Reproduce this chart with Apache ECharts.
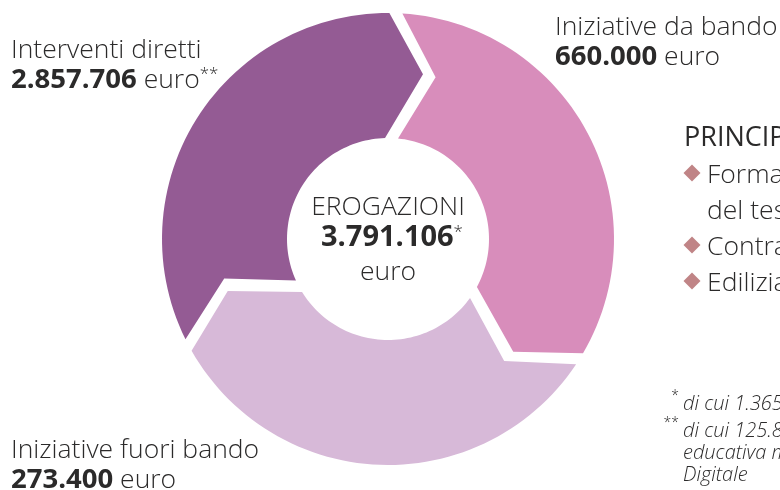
<!DOCTYPE html>
<html><head><meta charset="utf-8">
<script src="https://cdn.jsdelivr.net/npm/echarts@6/dist/echarts.min.js"></script>
<style>html,body{margin:0;padding:0;background:#fff}#c{width:780px;height:490px}</style>
</head><body><div id="c"></div>
<script>
// ---- data ----
const categories = ['Iniziative da bando', 'Iniziative fuori bando', 'Interventi diretti'];
const values = [660000, 273400, 2857706];
const valueMarks = ['', '', '**'];
const centerTitle = 'EROGAZIONI';
const centerMark = '*';
const unitLabel = 'euro';
const focusTitle = 'PRINCIPALI SETTORI DI INTERVENTO';
const focusItems = [['Formazione e sviluppo', 'del tessuto sociale'], ['Contrasto alla povertà educativa'], ['Edilizia scolastica']];
const footnoteMarks = ['*', '**'];
const footnoteLines = [['di cui 1.365.000 euro per progetti pluriennali'], ['di cui 125.800 euro per il contrasto alla povertà', 'educativa minorile e il Piano Nazionale Scuola', 'Digitale']];

// ---- style ----
const segColors = ['#d88dbb', '#d7b9d8', '#945b94'];
const TXT = '#2b2a2a';
const FONT = "'Open Sans', sans-serif";
const HALF_GAP = 6.5;   // px
const TIP_DEG = 12.2;   // chevron depth
const VR = 0.54;        // chevron vertex radial position

const fmt = n => String(n).replace(/\B(?=(\d{3})+(?!\d))/g, '.');
const total = values.reduce((a, b) => a + b, 0);

const n = categories.length;
function renderItem(params, api) {
  const i = api.value(1);
  const cs = params.coordSys;
  const cx = cs.cx, cy = cs.cy;
  const degPerUnit = 360 / n;
  const pt = (rv, a) => api.coord([rv, a]);
  const rpx = rv => { const p = api.coord([rv, 0]); return Math.hypot(p[0] - cx, p[1] - cy); };
  const d = r => (HALF_GAP / r) * 180 / Math.PI / degPerUnit;
  const rO = rpx(1), rI = rpx(0), rV = rpx(VR);
  const tip = TIP_DEG / degPerUnit;
  const s = i, e = i + 1;
  const pts = [];
  const N = 60;
  const a0 = s + d(rO), a1 = e - d(rO);
  for (let k = 0; k <= N; k++) pts.push(pt(1, a0 + (a1 - a0) * k / N));
  pts.push(pt(VR, e + tip - d(rV)));
  const b0 = e - d(rI), b1 = s + d(rI);
  for (let k = 0; k <= N; k++) pts.push(pt(0, b0 + (b1 - b0) * k / N));
  pts.push(pt(VR, s + tip + d(rV)));
  return { type: 'polygon', shape: { points: pts }, style: { fill: segColors[i] } };
}

const rich = {
  l: { fontFamily: FONT, fontWeight: 300, fontSize: 26.5, fill: TXT },
  b: { fontFamily: FONT, fontWeight: 700, fontSize: 27.5, fill: TXT },
  cb: { fontFamily: FONT, fontWeight: 700, fontSize: 29, fill: TXT },
  s: { fontFamily: FONT, fontWeight: 300, fontSize: 17, fill: TXT, padding: [0, 0, 12, 0] },
  t: { fontFamily: FONT, fontWeight: 400, fontSize: 27, fill: TXT },
  f: { fontFamily: FONT, fontWeight: 300, fontStyle: 'italic', fontSize: 20, fill: TXT },
  fs: { fontFamily: FONT, fontWeight: 300, fontSize: 14, fill: TXT, padding: [0, 0, 10, 0] }
};
function txt(x, y, text, align) {
  return { type: 'text', silent: true, style: { x, y, text, rich, align: align || 'left', verticalAlign: 'middle', fill: TXT } };
}
const valLine = i => '{b|' + fmt(values[i]) + '}{l| ' + unitLabel + '}' + (valueMarks[i] ? '{s|' + valueMarks[i] + '}' : '');

const graphics = [
  txt(555, 27, '{l|' + categories[0] + '}'),
  txt(555, 57, valLine(0)),
  txt(11, 450, '{l|' + categories[1] + '}'),
  txt(11, 480, valLine(1)),
  txt(11, 50, '{l|' + categories[2] + '}'),
  txt(11, 80, valLine(2)),
  txt(388, 207, '{l|' + centerTitle + '}', 'center'),
  txt(392, 238, '{cb|' + fmt(total) + '}{s|' + centerMark + '}', 'center'),
  txt(388, 272, '{l|' + unitLabel + '}', 'center'),
  txt(684, 138, '{t|' + focusTitle + '}')
];
const rowY = [175, 211, 247, 283];
let r = 0;
focusItems.forEach(item => {
  const cyD = rowY[r] - 2;
  graphics.push({ type: 'polygon', silent: true, shape: { points: [[692, cyD - 8.5], [700.5, cyD], [692, cyD + 8.5], [683.5, cyD]] }, style: { fill: '#c08486' } });
  item.forEach(line => { graphics.push(txt(707, rowY[r], '{l|' + line + '}')); r++; });
});
const footY = [[404], [431, 453, 475]];
footnoteLines.forEach((lines, fi) => {
  graphics.push(txt(679, footY[fi][0] - 3, '{fs|' + footnoteMarks[fi] + '}', 'right'));
  lines.forEach((line, li) => graphics.push(txt(683, footY[fi][li], '{f|' + line + '}')));
});

const chart = echarts.init(document.getElementById('c'), null, { renderer: 'canvas' });
chart.setOption({
  animation: false,
  backgroundColor: '#ffffff',
  polar: { center: [388, 239], radius: [101, 226] },
  angleAxis: { type: 'value', min: 0, max: n, startAngle: 88, clockwise: true, show: false },
  radiusAxis: { type: 'value', min: 0, max: 1, show: false },
  series: [{
    type: 'custom',
    coordinateSystem: 'polar',
    encode: { radius: 0, angle: 1 },
    data: categories.map((c, i) => ({ name: c, value: [1, i, values[i]] })),
    renderItem
  }],
  graphic: graphics
});
</script>
</body></html>
